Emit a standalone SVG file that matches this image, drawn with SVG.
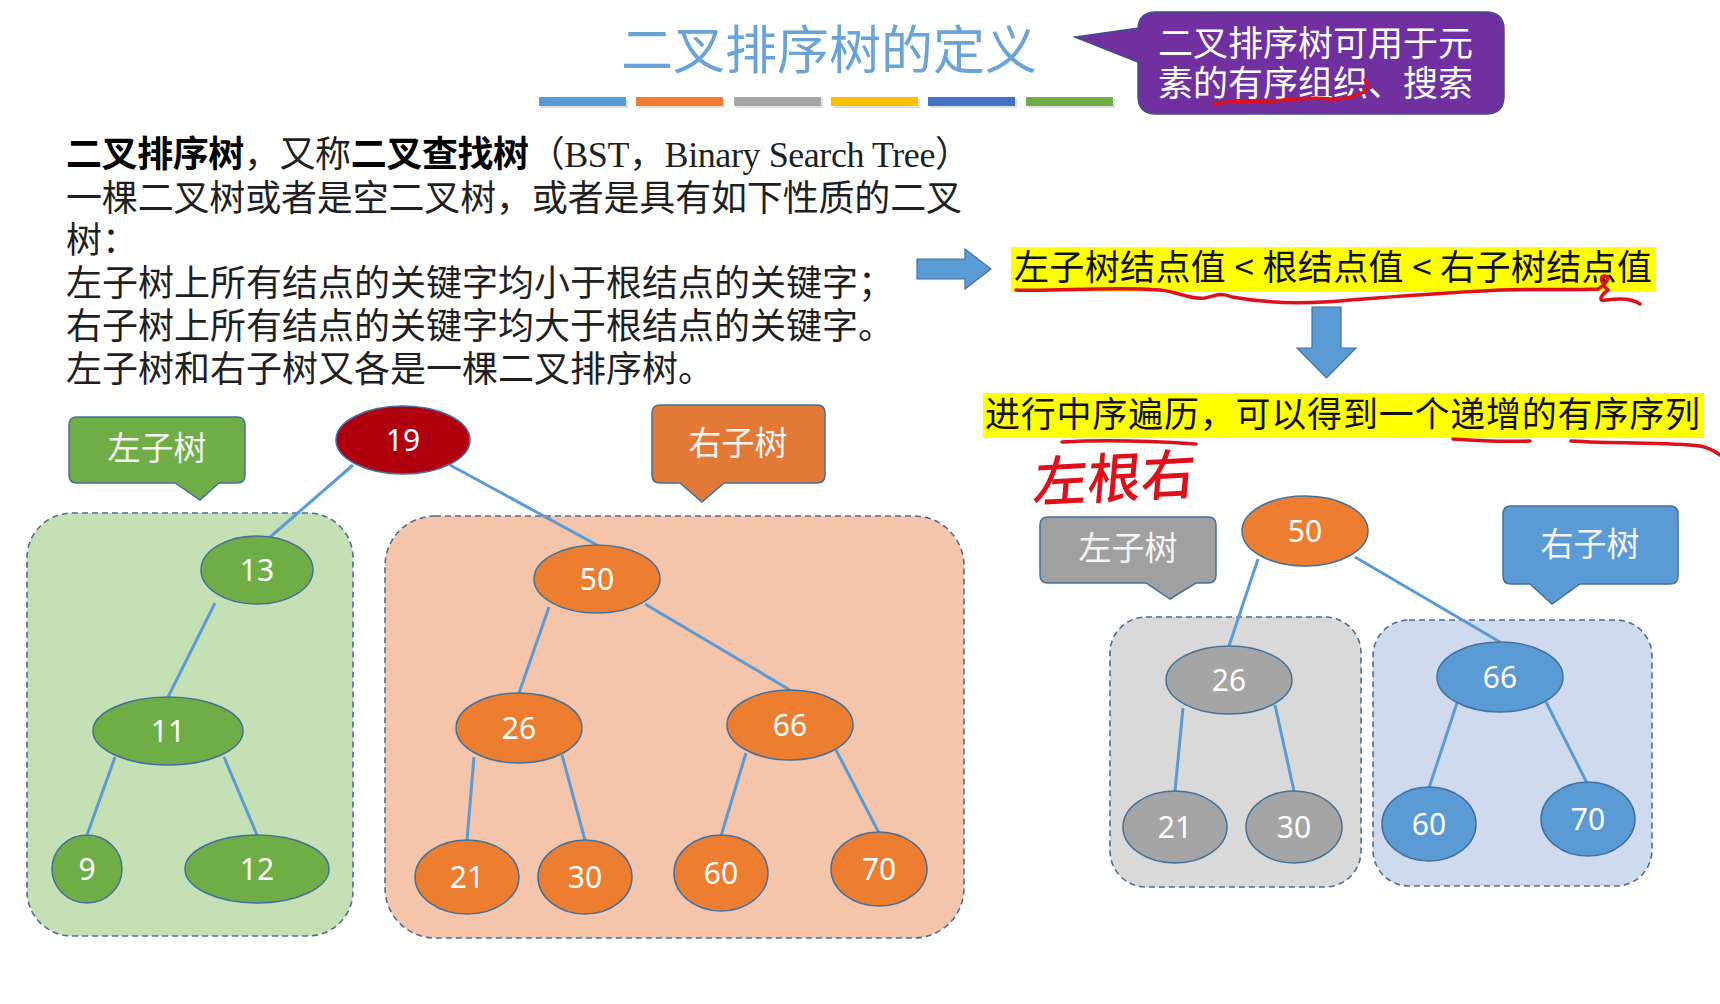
<svg xmlns="http://www.w3.org/2000/svg" width="1720" height="1004" viewBox="0 0 1720 1004">
<style>
.title{font-family:"Noto Sans CJK SC",sans-serif;font-size:52px;fill:#6AA3D8;text-anchor:middle}
.body{font-family:"Liberation Serif","Noto Sans CJK SC",serif;font-size:36px;fill:#1f1f1f}
.bold{font-family:"Noto Sans CJK SC",sans-serif;font-weight:bold;fill:#000}
.hl{font-family:"Noto Sans CJK SC",sans-serif;font-size:35px;fill:#111}
.call{font-family:"Noto Sans CJK SC",sans-serif;font-size:33px;fill:#F4F4F4;text-anchor:middle}
.pur{font-family:"Liberation Sans","Noto Sans CJK SC",sans-serif;font-size:35px;fill:#FFFFFF}
.num{font-family:"Noto Sans","Liberation Sans",sans-serif;font-size:30px;fill:#FFFFFF;text-anchor:middle}
.edge{stroke:#5B9BD5;stroke-width:3;fill:none}
.node{stroke:#41719C;stroke-width:1.5}
.region{stroke:#4A6F95;stroke-width:1.6;stroke-dasharray:6 4}
.red{stroke:#E0101A;stroke-width:3.5;fill:none;stroke-linecap:round;stroke-linejoin:round}
.cstroke{stroke:#41719C;stroke-width:1.5}
</style>

<!-- Title -->
<g id="title">
<text class="title" x="829" y="69">二叉排序树的定义</text>
<g id="bars">
<rect x="541" y="99" width="87" height="9" fill="#000" opacity="0.12"/>
<rect x="539" y="97" width="87" height="9" fill="#5B9BD5"/>
<rect x="638" y="99" width="87" height="9" fill="#000" opacity="0.12"/>
<rect x="636" y="97" width="87" height="9" fill="#ED7D31"/>
<rect x="736" y="99" width="87" height="9" fill="#000" opacity="0.12"/>
<rect x="734" y="97" width="87" height="9" fill="#A5A5A5"/>
<rect x="833" y="99" width="87" height="9" fill="#000" opacity="0.12"/>
<rect x="831" y="97" width="87" height="9" fill="#FFC000"/>
<rect x="930" y="99" width="87" height="9" fill="#000" opacity="0.12"/>
<rect x="928" y="97" width="87" height="9" fill="#4472C4"/>
<rect x="1028" y="99" width="87" height="9" fill="#000" opacity="0.12"/>
<rect x="1026" y="97" width="87" height="9" fill="#70AD47"/>
</g>
</g>

<!-- Purple callout -->
<g id="purple-callout">
<path d="M1156,12 H1486 Q1504,12 1504,30 V96 Q1504,114 1486,114 H1156 Q1138,114 1138,96 V62 L1075,37 L1138,28 V30 Q1138,12 1156,12 Z" fill="#7030A0" stroke="#3E4F8A" stroke-width="1.5"/>
<text class="pur"><tspan x="1158" y="56">二叉排序树可用于元</tspan><tspan x="1158" y="96">素的有序组织、搜索</tspan></text>
</g>

<!-- Body text -->
<g id="definition">
<text class="body" x="66" y="167" textLength="905" lengthAdjust="spacing"><tspan class="bold">二叉排序树</tspan>，又称<tspan class="bold">二叉查找树</tspan>（BST，Binary Search Tree）</text>
<text class="body" x="66" y="211" textLength="896" lengthAdjust="spacing">一棵二叉树或者是空二叉树，或者是具有如下性质的二叉</text>
<text class="body" x="66" y="253">树：</text>
<text class="body" x="66" y="296">左子树上所有结点的关键字均小于根结点的关键字；</text>
<text class="body" x="66" y="339">右子树上所有结点的关键字均大于根结点的关键字。</text>
<text class="body" x="66" y="382">左子树和右子树又各是一棵二叉排序树。</text>
</g>

<!-- Arrows and highlights -->
<g id="right-arrow">
<path d="M917,259 H965 V249 L991,269 L965,289 V279 H917 Z" fill="#5B9BD5" stroke="#41719C" stroke-width="1.2"/>
</g>
<g id="highlight-1">
<rect x="1011" y="247" width="645" height="45" fill="#FFFF00"/>
<text class="hl" x="1014" y="280" textLength="638" lengthAdjust="spacing">左子树结点值 &lt; 根结点值 &lt; 右子树结点值</text>
</g>
<g id="down-arrow">
<path d="M1312,307 H1341 V348 H1356 L1326.5,378 L1297,348 H1312 Z" fill="#5B9BD5" stroke="#41719C" stroke-width="1.2"/>
</g>
<g id="highlight-2">
<rect x="983" y="393" width="721" height="45" fill="#FFFF00"/>
<text class="hl" x="985" y="427" textLength="715" lengthAdjust="spacing">进行中序遍历，可以得到一个递增的有序序列</text>
</g>

<!-- Red annotations -->
<g id="annotations">
<path class="red" d="M1214,104 C1235,99 1250,103 1272,101 C1295,99 1310,97 1330,99 C1345,100 1355,96 1364,92 C1368,89 1368,84 1365,80"/>
<path class="red" d="M1016,290 C1050,292 1110,286 1160,290 C1180,292 1190,300 1205,298 C1215,296 1220,292 1232,297 C1270,304 1310,304 1350,300 C1400,296 1460,292 1500,290 C1540,289 1570,290 1598,289 C1606,284 1612,276 1604,276 C1598,277 1604,287 1608,290 C1600,296 1598,302 1606,300 C1620,298 1632,298 1640,304"/>
<path class="red" d="M1062,442 C1100,440 1150,441 1196,444"/>
<path class="red" d="M1453,439 C1480,441 1505,442 1530,441"/>
<path class="red" d="M1571,441 C1620,444 1670,442 1700,446 C1710,448 1716,452 1720,455"/>
<text x="0" y="0" font-family="'Noto Sans CJK SC',sans-serif" font-size="54" font-weight="500" fill="#E0101A" transform="translate(1032,502) rotate(-3) skewX(-8)">左根右</text>
</g>

<!-- Regions -->
<g id="regions">
<rect id="region-left" class="region" x="27" y="513" width="326" height="423" rx="45" fill="#C5E0B4"/>
<rect id="region-right" class="region" x="385" y="516" width="579" height="422" rx="50" fill="#F4C5AA"/>
<rect id="region-gray" class="region" x="1110" y="617" width="251" height="270" rx="36" fill="#D9D9D9"/>
<rect id="region-blue" class="region" x="1373" y="620" width="279" height="266" rx="36" fill="#D0DAEE"/>
</g>

<!-- Callouts -->
<g id="callout-left-1">
<path class="cstroke" d="M77,417 H237 Q245,417 245,425 V475 Q245,483 237,483 H219 L200,500 L175,483 H77 Q69,483 69,475 V425 Q69,417 77,417 Z" fill="#70AD47"/>
<text class="call" x="157" y="460">左子树</text>
</g>
<g id="callout-right-1">
<path class="cstroke" d="M660,405 H817 Q825,405 825,413 V475 Q825,483 817,483 H724 L702,502 L680,483 H660 Q652,483 652,475 V413 Q652,405 660,405 Z" fill="#E37936"/>
<text class="call" x="738" y="455">右子树</text>
</g>
<g id="callout-left-2">
<path class="cstroke" d="M1048,517 H1208 Q1216,517 1216,525 V575 Q1216,583 1208,583 H1196 L1170,599 L1146,583 H1048 Q1040,583 1040,575 V525 Q1040,517 1048,517 Z" fill="#A0A0A0"/>
<text class="call" x="1128" y="560">左子树</text>
</g>
<g id="callout-right-2">
<path class="cstroke" d="M1511,506 H1670 Q1678,506 1678,514 V576 Q1678,584 1670,584 H1580 L1552,604 L1530,584 H1511 Q1503,584 1503,576 V514 Q1503,506 1511,506 Z" fill="#5B9BD5"/>
<text class="call" x="1590" y="556">右子树</text>
</g>

<!-- Connectors -->
<g id="connectors">
<line class="edge" x1="353" y1="465" x2="269" y2="538"/>
<line class="edge" x1="215" y1="603" x2="168" y2="697"/>
<line class="edge" x1="115" y1="757" x2="87" y2="835"/>
<line class="edge" x1="224" y1="757" x2="257" y2="835"/>
<line class="edge" x1="450" y1="465" x2="597" y2="545"/>
<line class="edge" x1="549" y1="607" x2="519" y2="693"/>
<line class="edge" x1="645" y1="604" x2="790" y2="690"/>
<line class="edge" x1="474" y1="757" x2="467" y2="840"/>
<line class="edge" x1="562" y1="755" x2="585" y2="840"/>
<line class="edge" x1="746" y1="753" x2="721" y2="836"/>
<line class="edge" x1="836" y1="750" x2="879" y2="833"/>
<line class="edge" x1="1258" y1="559" x2="1229" y2="646"/>
<line class="edge" x1="1355" y1="557" x2="1500" y2="642"/>
<line class="edge" x1="1183" y1="708" x2="1175" y2="791"/>
<line class="edge" x1="1275" y1="705" x2="1294" y2="791"/>
<line class="edge" x1="1457" y1="703" x2="1429" y2="788"/>
<line class="edge" x1="1546" y1="702" x2="1588" y2="785"/>
</g>

<!-- Left tree nodes -->
<g id="n19"><ellipse class="node" cx="403" cy="440" rx="67" ry="34" fill="#B00010"/><text class="num" x="403" y="451">19</text></g>
<g id="n13"><ellipse class="node" cx="257" cy="570" rx="56" ry="34" fill="#70AD47"/><text class="num" x="257" y="581">13</text></g>
<g id="n11"><ellipse class="node" cx="168" cy="731" rx="75" ry="34" fill="#70AD47"/><text class="num" x="168" y="742">11</text></g>
<g id="n9"><ellipse class="node" cx="87" cy="869" rx="35" ry="34" fill="#70AD47"/><text class="num" x="87" y="880">9</text></g>
<g id="n12"><ellipse class="node" cx="257" cy="869" rx="72" ry="34" fill="#70AD47"/><text class="num" x="257" y="880">12</text></g>

<!-- Right subtree nodes -->
<g id="n50"><ellipse class="node" cx="597" cy="579" rx="63" ry="34" fill="#ED7D31"/><text class="num" x="597" y="590">50</text></g>
<g id="n26"><ellipse class="node" cx="519" cy="728" rx="63" ry="35" fill="#ED7D31"/><text class="num" x="519" y="739">26</text></g>
<g id="n66"><ellipse class="node" cx="790" cy="725" rx="63" ry="35" fill="#ED7D31"/><text class="num" x="790" y="736">66</text></g>
<g id="n21"><ellipse class="node" cx="467" cy="877" rx="52" ry="37" fill="#ED7D31"/><text class="num" x="467" y="888">21</text></g>
<g id="n30"><ellipse class="node" cx="585" cy="877" rx="47" ry="37" fill="#ED7D31"/><text class="num" x="585" y="888">30</text></g>
<g id="n60"><ellipse class="node" cx="721" cy="873" rx="47" ry="38" fill="#ED7D31"/><text class="num" x="721" y="884">60</text></g>
<g id="n70"><ellipse class="node" cx="879" cy="869" rx="48" ry="37" fill="#ED7D31"/><text class="num" x="879" y="880">70</text></g>

<!-- Second tree -->
<g id="m50"><ellipse class="node" cx="1305" cy="531" rx="63" ry="35" fill="#ED7D31"/><text class="num" x="1305" y="542">50</text></g>
<g id="m26"><ellipse class="node" cx="1229" cy="680" rx="63" ry="34" fill="#A5A5A5"/><text class="num" x="1229" y="691">26</text></g>
<g id="m21"><ellipse class="node" cx="1175" cy="827" rx="52" ry="36" fill="#A5A5A5"/><text class="num" x="1175" y="838">21</text></g>
<g id="m30"><ellipse class="node" cx="1294" cy="827" rx="48" ry="36" fill="#A5A5A5"/><text class="num" x="1294" y="838">30</text></g>
<g id="m66"><ellipse class="node" cx="1500" cy="677" rx="63" ry="35" fill="#5B9BD5"/><text class="num" x="1500" y="688">66</text></g>
<g id="m60"><ellipse class="node" cx="1429" cy="824" rx="47" ry="37" fill="#5B9BD5"/><text class="num" x="1429" y="835">60</text></g>
<g id="m70"><ellipse class="node" cx="1588" cy="819" rx="47" ry="37" fill="#5B9BD5"/><text class="num" x="1588" y="830">70</text></g>
</svg>
